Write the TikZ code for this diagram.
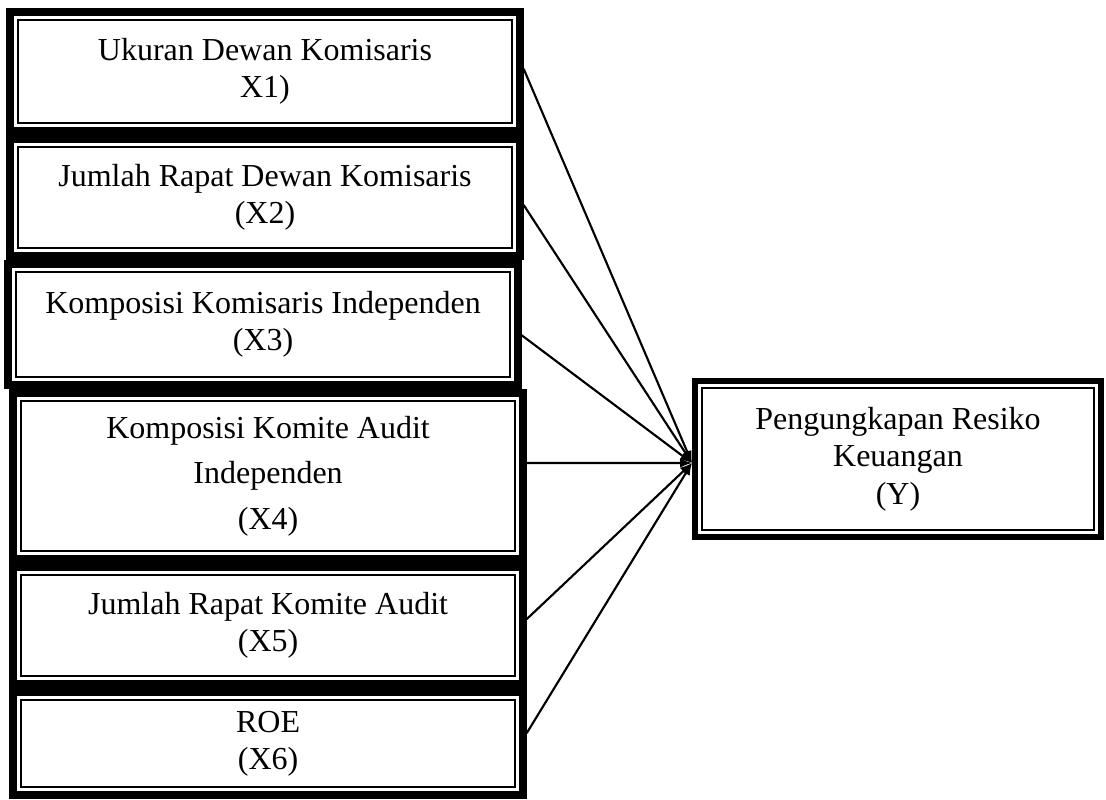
\documentclass[tikz,border=0pt]{standalone}
\usepackage{fontspec}
\setmainfont{Liberation Serif}
\usepackage{tikz}
\usetikzlibrary{positioning,arrows.meta,calc}

\begin{document}
\begin{tikzpicture}[
  x=0.375pt,y=0.375pt,
  every node/.style={font=\fontsize{12}{14}\selectfont},
  var/.style={draw,line width=3pt,align=center,minimum width=191pt,inner sep=2pt},
  garis/.style={line width=0.75pt},
  panah/.style={-{Latex[length=4.5pt,width=3.6pt]},line width=0.8pt}
]
\useasboundingbox (0,0) rectangle (1106,799);
\node[var,minimum height=44.6pt] (x1) at (265,727.5) {Ukuran Dewan Komisaris\\X1)};
\node[var,minimum height=43.9pt,below=0pt of x1] (x2) {Jumlah Rapat Dewan Komisaris\\(X2)};
\node[var,minimum height=45.4pt,below=0pt of x2,xshift=-0.75pt] (x3) {Komposisi Komisaris Independen\\(X3)};
\node[var,minimum height=62.2pt,below=0pt of x3,xshift=1.9pt] (x4) {Komposisi Komite Audit\\[3pt]Independen\\[3pt](X4)};
\node[var,minimum height=43.9pt,below=0pt of x4] (x5) {Jumlah Rapat Komite Audit\\(X5)};
\node[var,minimum height=38.6pt,below=0pt of x5] (x6) {ROE\\(X6)};
\node[var,line width=2.4pt,minimum width=152.1pt,minimum height=58.4pt] (y) at (898,340) {Pengungkapan Resiko\\Keuangan\\(Y)};
% garis dalam
\foreach \n in {x1,x2,x3,x4,x5,x6}
  \draw[garis] ($(\n.north west)+(4.5pt,-4.5pt)$) rectangle ($(\n.south east)+(-4.5pt,4.5pt)$);
\draw[garis] ($(y.north west)+(3.7pt,-3.7pt)$) rectangle ($(y.south east)+(-3.7pt,3.7pt)$);
% panah ke Y
\coordinate (tip) at ([yshift=-1.5pt]y.west);
\foreach \n/\s in {x1/1pt,x2/-2.8pt,x3/-4pt,x4/4.9pt,x5/2.4pt,x6/3.9pt}
  \draw[panah] ([yshift=\s]\n.east) -- (tip);
\end{tikzpicture}
\end{document}
